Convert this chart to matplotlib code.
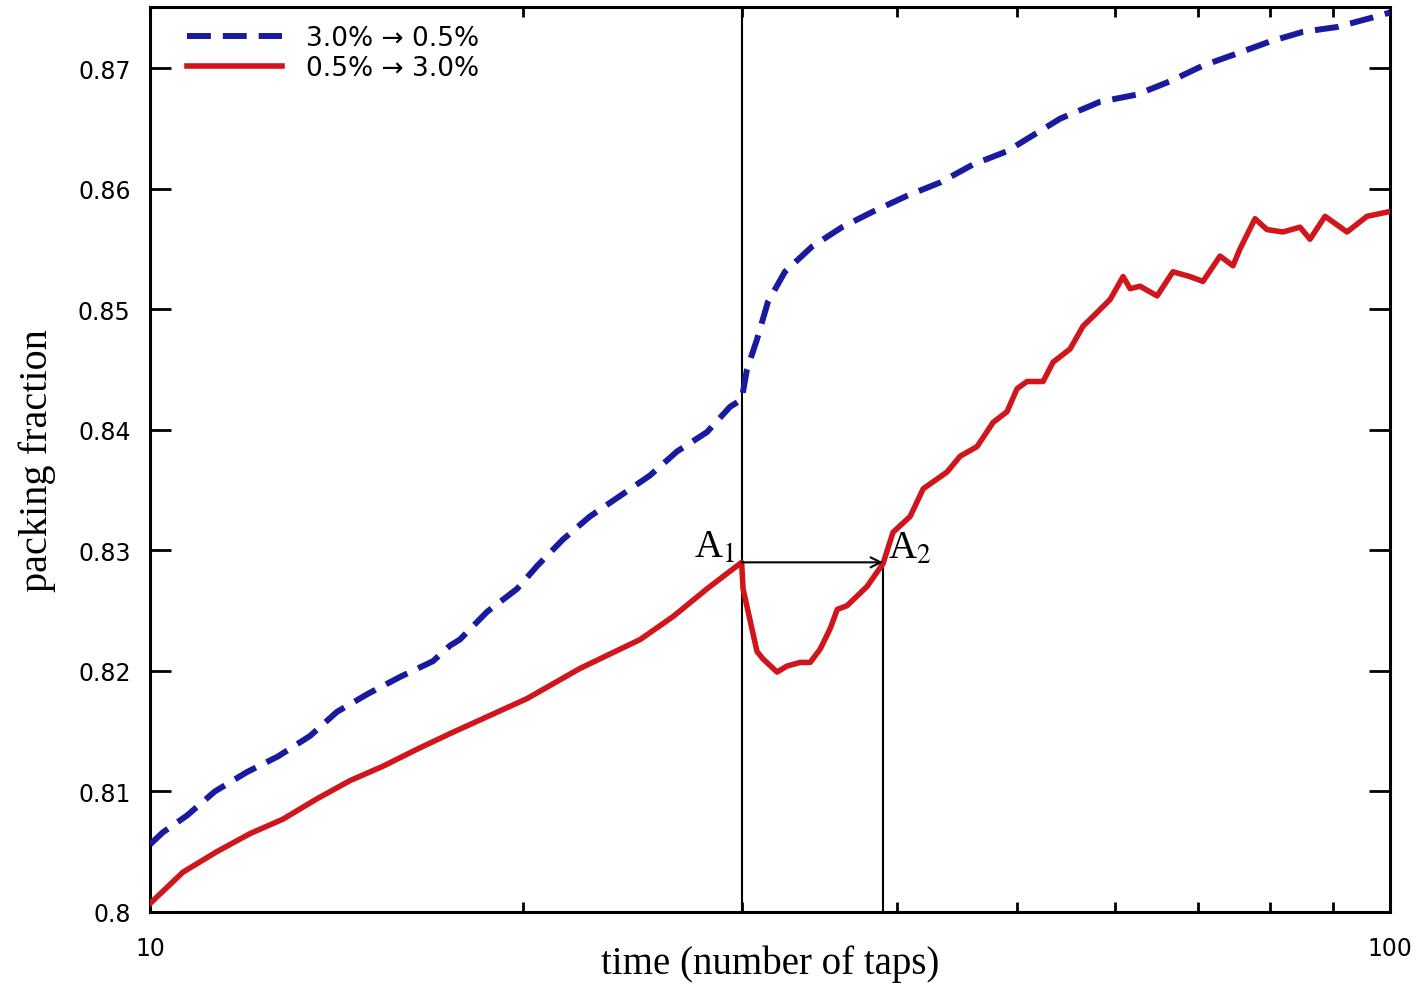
import matplotlib
matplotlib.use('Agg')
import matplotlib.pyplot as plt
from matplotlib.ticker import FixedLocator, NullFormatter, FixedFormatter

# 3.0% -> 0.5% (blue, dashed)
t_down = [10.0, 10.24, 10.71, 11.28, 11.97, 12.68, 13.46, 14.15, 14.99, 15.91,
          16.91, 17.46, 17.78, 18.70, 19.77, 20.52, 21.53, 22.63, 23.93, 25.30,
          26.61, 28.13, 29.36, 30.0, 30.30, 30.87, 31.50, 32.51, 34.20, 36.15,
          38.30, 40.78, 43.36, 46.11, 49.11, 54.20, 58.37, 62.52, 66.47, 70.66,
          75.26, 80.03, 85.08, 90.64, 96.89, 100.0]
phi_down = [0.8056, 0.8066, 0.8080, 0.8100, 0.8116, 0.8129, 0.8146, 0.8166, 0.8181, 0.8195,
            0.8208, 0.8221, 0.8226, 0.8249, 0.8268, 0.8287, 0.8309, 0.8328, 0.8345, 0.8362,
            0.8382, 0.8398, 0.8419, 0.8425, 0.8450, 0.8475, 0.8506, 0.8531, 0.8552, 0.8568,
            0.8581, 0.8594, 0.8605, 0.8620, 0.8631, 0.8658, 0.8672, 0.8678, 0.8689, 0.8702,
            0.8712, 0.8722, 0.8730, 0.8734, 0.8742, 0.8746]

# 0.5% -> 3.0% (red, solid)
t_up = [10.0, 10.63, 11.32, 12.04, 12.80, 13.64, 14.50, 15.42, 16.42, 17.46,
        20.14, 22.22, 24.85, 26.41, 28.13, 30.0, 30.08, 30.87, 31.21, 32.04,
        32.64, 33.44, 34.07, 34.71, 35.36, 35.83, 36.48, 37.17, 37.87, 39.01,
        39.74, 41.02, 42.03, 43.94, 45.01, 46.45, 47.85, 49.11, 50.03, 50.97,
        52.51, 53.49, 55.21, 56.56, 57.62, 59.47, 60.92, 61.72, 62.87, 64.89,
        66.83, 68.97, 70.66, 72.93, 74.71, 75.69, 77.83, 79.58, 81.98, 84.61,
        86.20, 88.64, 92.33, 95.82, 100.0]
phi_up = [0.8007, 0.8033, 0.8050, 0.8065, 0.8077, 0.8094, 0.8109, 0.8121, 0.8135, 0.8148,
          0.8177, 0.8202, 0.8226, 0.8245, 0.8268, 0.8290, 0.8268, 0.8216, 0.8210, 0.8199,
          0.8204, 0.8207, 0.8207, 0.8218, 0.8235, 0.8251, 0.8254, 0.8262, 0.8270, 0.8289,
          0.8315, 0.8328, 0.8351, 0.8365, 0.8378, 0.8386, 0.8406, 0.8415, 0.8434, 0.8440,
          0.8440, 0.8456, 0.8467, 0.8486, 0.8494, 0.8508, 0.8527, 0.8517, 0.8519, 0.8511,
          0.8531, 0.8527, 0.8523, 0.8544, 0.8536, 0.8550, 0.8575, 0.8566, 0.8564, 0.8568,
          0.8558, 0.8577, 0.8564, 0.8577, 0.8581]

# points A1 (switch) and A2 (same packing reached again)
t_a1, t_a2 = 30.0, 39.0
phi_a = 0.8290

y_ticks = [0.80, 0.81, 0.82, 0.83, 0.84, 0.85, 0.86, 0.87]
y_tick_labels = ['0.8', '0.81', '0.82', '0.83', '0.84', '0.85', '0.86', '0.87']

plt.rcParams['mathtext.fontset'] = 'stix'

fig = plt.figure(figsize=(14.2, 9.87), dpi=100)
ax = fig.add_axes([150 / 1420, 1 - 913 / 987, 1240 / 1420, 905 / 987])

ax.plot(t_down, phi_down, color='#1a1a9e', lw=4.3, dashes=(4.0, 2.0),
        label='3.0% \u2192 0.5%', zorder=3)
ax.plot(t_up, phi_up, color='#d0161c', lw=4.0, label='0.5% \u2192 3.0%', zorder=3)

# guide lines and arrow A1 -> A2
ax.axvline(t_a1, color='black', lw=1.5, zorder=2)
ax.plot([t_a2, t_a2], [0.8, phi_a], color='black', lw=1.5, zorder=2)
ax.annotate('', xy=(t_a2, phi_a), xytext=(t_a1, phi_a),
            arrowprops=dict(arrowstyle='->', color='black', lw=1.5,
                            shrinkA=0, shrinkB=0, mutation_scale=18), zorder=4)
ax.text(t_a1 * 0.988, phi_a - 0.0003, r'A$_1$', ha='right', va='bottom',
        fontsize=28, family='Liberation Serif')
ax.text(t_a2 * 1.01, phi_a - 0.0004, r'A$_2$', ha='left', va='bottom',
        fontsize=28, family='Liberation Serif')

ax.set_xscale('log')
ax.set_xlim(10, 100)
ax.set_ylim(0.8, 0.87506)

ax.xaxis.set_major_locator(FixedLocator([10, 100]))
ax.xaxis.set_major_formatter(FixedFormatter(['10', '100']))
ax.xaxis.set_minor_locator(FixedLocator([20, 30, 40, 50, 60, 70, 80, 90]))
ax.xaxis.set_minor_formatter(NullFormatter())
ax.yaxis.set_major_locator(FixedLocator(y_ticks))
ax.yaxis.set_major_formatter(FixedFormatter(y_tick_labels))

ax.tick_params(axis='both', which='major', direction='in', top=True, right=True,
               labelsize=17, width=2)
ax.tick_params(axis='y', which='major', length=15, pad=14)
ax.tick_params(axis='x', which='major', length=0, pad=17)
ax.tick_params(axis='x', which='minor', direction='in', top=True, length=7, width=2)

for sp in ax.spines.values():
    sp.set_linewidth(2.2)

ax.set_xlabel('time (number of taps)', fontsize=28, family='Liberation Serif', labelpad=-11)
ax.set_ylabel('packing fraction', fontsize=29, family='Liberation Serif', labelpad=16)

ax.legend(loc='upper left', bbox_to_anchor=(0.015, 1.0), frameon=False, fontsize=19,
          handlelength=3.6, labelspacing=0.15, borderaxespad=0.3, handletextpad=0.9)

fig.savefig('out.png', dpi=100)
